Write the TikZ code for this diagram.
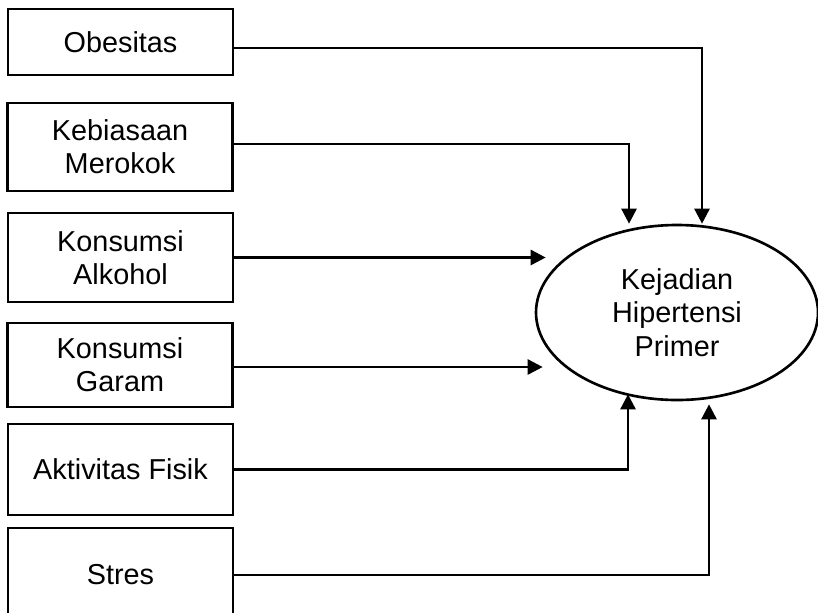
\documentclass[tikz,border=0pt]{standalone}
\usepackage{fontspec}
\setmainfont{Liberation Sans}
\usetikzlibrary{shapes.geometric,arrows.meta}

\begin{document}
\begin{tikzpicture}[
    line width=0.75pt,
    factor/.style={draw, minimum width=2.25cm, inner sep=0pt, align=center,
        font=\fontsize{8.2}{9.3}\selectfont},
    outcome/.style={draw, ellipse, minimum width=2.82cm, minimum height=1.75cm,
        inner sep=0pt, align=center, font=\fontsize{8.2}{9.5}\selectfont},
    arr/.style={-{Triangle[length=0.15cm,width=0.15cm]}}
]
    \useasboundingbox (0,0) rectangle (8.18,-6.12);
    \clip (0,0) rectangle (8.18,-6.12);

    % Risk factors (left column)
    \node[factor, minimum height=0.66cm] (ob) at (1.205,-0.42) {Obesitas};
    \node[factor, minimum height=0.88cm] (mr) at (1.20,-1.47) {Kebiasaan\\Merokok};
    \node[factor, minimum height=0.89cm] (al) at (1.205,-2.575) {Konsumsi\\Alkohol};
    \node[factor, minimum height=0.84cm] (gr) at (1.20,-3.65) {Konsumsi\\Garam};
    \node[factor, minimum height=0.91cm] (ak) at (1.205,-4.695) {Aktivitas Fisik};
    \node[factor, minimum height=0.94cm] (st) at (1.205,-5.75) {Stres};

    % Outcome
    \node[outcome] (hip) at (6.77,-3.125) {Kejadian\\Hipertensi\\Primer};

    % Free ends of the straight arrows (they stop short of the ellipse)
    \coordinate (alIn) at ([xshift=0.11cm]hip.west |- al.east);
    \coordinate (grIn) at ([xshift=0.08cm,yshift=-0.02cm]hip.west |- gr.east);

    % Arrows into the outcome
    \draw[arr] ([yshift=-0.06cm]ob.east) -| ([xshift=0.25cm]hip.north);
    \draw[arr] ([yshift=0.03cm]mr.east) -| ([xshift=-0.48cm]hip.north);
    \draw[arr] (al.east) -- (alIn);
    \draw[arr] ([yshift=-0.02cm]gr.east) -- (grIn);
    \draw[arr] (ak.east) -| ([xshift=-0.49cm,yshift=0.07cm]hip.south);
    \draw[arr] (st.east) -| ([xshift=0.32cm,yshift=-0.03cm]hip.south);
\end{tikzpicture}
\end{document}
